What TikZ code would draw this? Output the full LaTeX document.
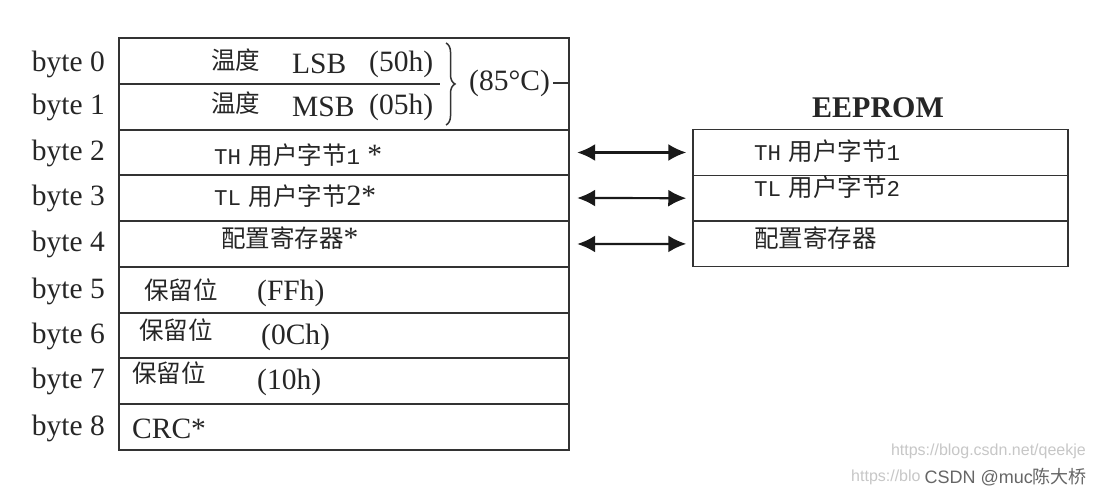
\documentclass[tikz,border=0pt]{standalone}
\usepackage{fontspec}
\setmainfont{Liberation Serif}
\setsansfont{Liberation Sans}
\setmonofont{Liberation Mono}
\newfontfamily\cjkfont{Noto Sans CJK SC}
\usetikzlibrary{arrows.meta,decorations.pathreplacing}
\newcommand\myCJ[1]{{\cjkfont\fontsize{24.5}{26}\selectfont #1}}
\newcommand\myTT[1]{{\ttfamily\fontsize{22.5}{24}\selectfont #1}}
\begin{document}
\begin{tikzpicture}[x=1pt,y=-1pt,
  tline/.style={line width=1.5pt, draw=black!80},
  lbl/.style={font=\fontsize{29.5}{31}\selectfont, inner sep=0pt, text=black!85},
  txt/.style={font=\fontsize{29.5}{31}\selectfont, inner sep=0pt, anchor=west, text=black!85},
  rowcell/.style={minimum width=450pt, minimum height=45pt, inner sep=0pt},
  ecell/.style={draw=black!80, line width=1.5pt, minimum width=375pt, minimum height=45.7pt, inner sep=0pt},
  dblarr/.style={{Latex[length=18pt,width=17pt]}-{Latex[length=18pt,width=17pt]}, line width=2.2pt, black!90},
  wm/.style={font=\sffamily\fontsize{16}{18}\selectfont, inner sep=0pt}
]
\fill[white] (0,0) rectangle (1103,494);
\useasboundingbox (0,0) rectangle (1103,494);

% left table
\draw[tline] (119,38) rectangle (569,450);
\draw[tline] (119,84) -- (440,84);
\foreach \yy in {130,175,221,267,313,358,404} \draw[tline] (119,\yy) -- (569,\yy);

% invisible row cells for connectors
\node[rowcell] (L2) at (344,152.5) {};
\node[rowcell] (L3) at (344,198) {};
\node[rowcell] (L4) at (344,244) {};

% byte labels
\foreach \i/\yy in {0/64,1/107,2/153,3/198,4/244,5/291,6/336,7/381,8/428}
  \node[lbl, anchor=east] (B\i) at (105,\yy) {byte \i};

% row contents
\node[txt] (t0a) at (211,60) {\myCJ{温度}};
\node[txt] (t0b) at (292,64) {LSB};
\node[txt] (t0c) at (369,64) {(50h)};
\node[txt] (t1a) at (211,103) {\myCJ{温度}};
\node[txt] (t1b) at (292,107) {MSB};
\node[txt] (t1c) at (369,107) {(05h)};
\draw[line width=1.5pt, black!80, decoration={brace,amplitude=9pt}, decorate] (446,43) -- (446,125);
\node[txt] (t85) at (469,83) {(85°C)};
\draw[tline] (t85.east) ++(3,0) -- (569,83);

\node[txt] (t2) at (214,155) {\myTT{TH} \myCJ{用户字节}\myTT{1} *};
\node[txt] (t3) at (214,196) {\myTT{TL} \myCJ{用户字节}2*};
\node[txt] (t4) at (221,238) {\myCJ{配置寄存器}*};

\node[txt] (t5a) at (144,290) {\myCJ{保留位}};
\node[txt] (t5b) at (257,293) {(FFh)};
\node[txt] (t6a) at (139,330) {\myCJ{保留位}};
\node[txt] (t6b) at (261,337) {(0Ch)};
\node[txt] (t7a) at (132,373) {\myCJ{保留位}};
\node[txt] (t7b) at (257,382) {(10h)};
\node[txt] (t8) at (132,429) {CRC*};

% EEPROM table
\node[font=\bfseries\fontsize{30}{32}\selectfont, inner sep=0pt, text=black!85] (ttl) at (878,108) {EEPROM};
\node[ecell] (E2) at (880.5,152.5) {};
\node[ecell] (E3) at (880.5,198.2) {};
\node[ecell] (E4) at (880.5,243.9) {};
\node[txt] (e2) at (754,151) {\myTT{TH} \myCJ{用户字节}\myTT{1}};
\node[txt] (e3) at (754,187) {\myTT{TL} \myCJ{用户字节}\myTT{2}};
\node[txt] (e4) at (754,238) {\myCJ{配置寄存器}};

% connectors
\draw[dblarr] ([xshift=8pt]L2.east) -- ([xshift=-6pt]E2.west);
\draw[dblarr] ([xshift=8pt]L3.east) -- ([xshift=-6pt]E3.west);
\draw[dblarr] ([xshift=8pt]L4.east) -- ([xshift=-6pt]E4.west);

% watermarks
\node[wm, anchor=east, text=black!22] (w1) at (1086,451) {https://blog.csdn.net/qeekje};
\node[wm, anchor=west, text=black!22] (w2) at (851,477) {https://blo};
\node[anchor=east, inner sep=1pt, text=black!60, font=\sffamily\fontsize{18}{20}\selectfont] (w3) at (1088,477) {CSDN @muc{\cjkfont 陈大桥}};
\end{tikzpicture}
\end{document}
